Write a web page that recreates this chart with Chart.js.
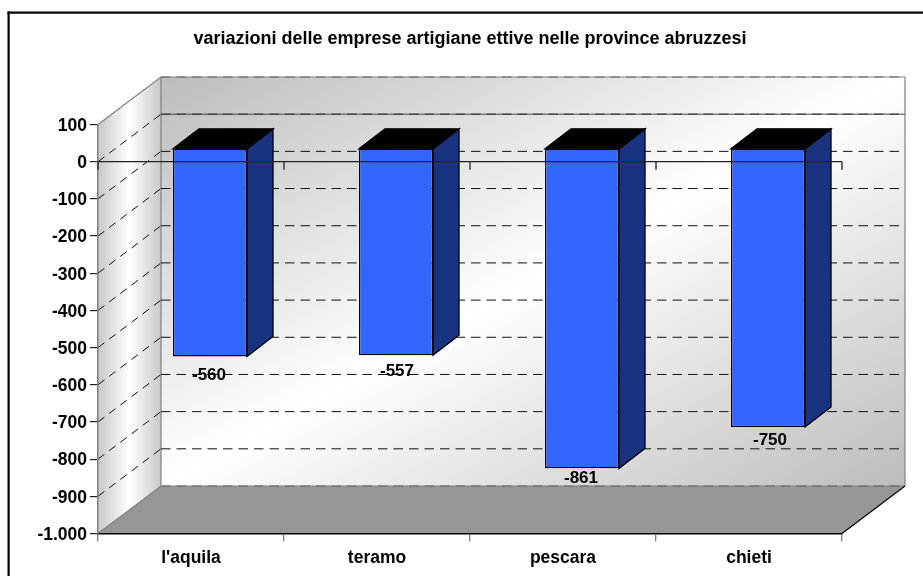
<!DOCTYPE html>
<html>
<head>
<meta charset="utf-8">
<style>html,body{margin:0;padding:0;background:#fff;overflow:hidden}canvas{display:block}</style>
<script src="https://cdn.jsdelivr.net/npm/chart.js@4"></script>
</head>
<body>
<div style="width:923px;height:576px"><canvas id="c"></canvas></div>
<script>
const categories = ["l'aquila", "teramo", "pescara", "chieti"];
const variazioni = [-560, -557, -861, -750];
const titleText = "variazioni delle emprese artigiane ettive nelle province abruzzesi";
const axisMin = -1000;
const axisMax = 100;
const axisStep = 100;

const fontFamily = "'Liberation Sans', Arial, sans-serif";
const WALL = {dx: 63, dy: 47.5};
const BAR = {shiftX: 19, shiftY: 13.5, dx: 26, dy: 20};
const LABEL_NUDGE_Y = [5, 3, -4, 0];
const LABEL_NUDGE_X = [0, 2, 0, 3];

function fmt(v) {
  const s = String(Math.abs(v)).replace(/\B(?=(\d{3})+$)/g, '.');
  return (v < 0 ? '-' : '') + s;
}
function line(ctx, x1, y1, x2, y2) {
  ctx.beginPath(); ctx.moveTo(x1, y1); ctx.lineTo(x2, y2); ctx.stroke();
}

const scene = {
  id: 'scene',
  beforeDraw(chart) {
    const ctx = chart.ctx, a = chart.chartArea, y = chart.scales.y;
    const {dx, dy} = WALL;
    const L = a.left, R = a.right, T = a.top, B = a.bottom;
    const bL = L + dx, bR = R + dx, bT = T - dy, bB = B - dy;
    ctx.save();
    ctx.fillStyle = '#fff';
    ctx.fillRect(0, 0, chart.width, chart.height);

    // page frame (cropped at right and bottom)
    ctx.fillStyle = '#000';
    ctx.fillRect(7.5, 11.5, chart.width, 2.2);
    ctx.fillRect(7.5, 11.5, 2.2, chart.height);

    // back wall
    const w = bR - bL, h = bB - bT, cx = (bL + bR) / 2, cy = (bT + bB) / 2;
    const len = Math.hypot(w, h), nx = h / len, ny = w / len;
    const p = (w / 2) * nx + (h / 2) * ny;
    const g = ctx.createLinearGradient(cx - nx * p, cy - ny * p, cx + nx * p, cy + ny * p);
    g.addColorStop(0, '#bcbcbc'); g.addColorStop(0.5, '#ffffff'); g.addColorStop(1, '#bcbcbc');
    ctx.fillStyle = g;
    ctx.fillRect(bL, bT, w, h);

    // side wall
    const s = ctx.createLinearGradient(L, 0, bL, 0);
    s.addColorStop(0, '#c8c8c8'); s.addColorStop(0.5, '#ffffff'); s.addColorStop(1, '#c8c8c8');
    ctx.fillStyle = s;
    ctx.beginPath();
    ctx.moveTo(L, T); ctx.lineTo(bL, bT); ctx.lineTo(bL, bB); ctx.lineTo(L, B); ctx.closePath();
    ctx.fill();

    // floor
    ctx.fillStyle = '#969696';
    ctx.beginPath();
    ctx.moveTo(L, B); ctx.lineTo(bL, bB); ctx.lineTo(bR, bB); ctx.lineTo(R, B); ctx.closePath();
    ctx.fill();

    // wall edges
    ctx.strokeStyle = '#808080';
    ctx.lineWidth = 1.2;
    ctx.beginPath();
    ctx.moveTo(L, T); ctx.lineTo(bL, bT); ctx.lineTo(bR, bT); ctx.lineTo(bR, bB);
    ctx.moveTo(bL, bT); ctx.lineTo(bL, bB);
    ctx.moveTo(L, B); ctx.lineTo(bL, bB); ctx.lineTo(bR, bB);
    ctx.stroke();
    ctx.strokeStyle = '#000';
    line(ctx, bR, bB, R, B);

    // gridlines
    y.ticks.forEach(t => {
      const py = y.getPixelForValue(t.value);
      const edge = t.value === axisMax || t.value === axisMin;
      ctx.setLineDash([9.5, 6]);
      ctx.lineWidth = 1;
      ctx.strokeStyle = edge ? '#666' : '#111';
      line(ctx, bL, py - dy, bR, py - dy);
      if (!edge) {
        ctx.setLineDash([8, 6]);
        ctx.strokeStyle = '#111';
        line(ctx, L, py, bL, py - dy);
      }
      ctx.setLineDash([]);
      if (t.value === 0) {
        ctx.strokeStyle = '#444';
        ctx.lineWidth = 1;
        line(ctx, bL, py - dy, bR, py - dy);
      }
    });
    ctx.restore();
  },
  beforeDatasetDraw(chart, args) {
    const ctx = chart.ctx;
    ctx.save();
    ctx.translate(BAR.shiftX, -BAR.shiftY);
    args.meta.data.forEach(el => {
      const l = el.x - el.width / 2, r = el.x + el.width / 2, t = el.base, b = el.y;
      ctx.lineWidth = 1.3;
      ctx.strokeStyle = '#000';
      ctx.lineJoin = 'miter';
      ctx.fillStyle = '#1a3380';
      ctx.beginPath();
      ctx.moveTo(r, t); ctx.lineTo(r + BAR.dx, t - BAR.dy); ctx.lineTo(r + BAR.dx, b - BAR.dy); ctx.lineTo(r, b); ctx.closePath();
      ctx.fill(); ctx.stroke();
      ctx.fillStyle = '#000';
      ctx.beginPath();
      ctx.moveTo(l, t); ctx.lineTo(l + BAR.dx, t - BAR.dy); ctx.lineTo(r + BAR.dx, t - BAR.dy); ctx.lineTo(r, t); ctx.closePath();
      ctx.fill(); ctx.stroke();
    });
  },
  afterDatasetDraw(chart, args) {
    chart.ctx.restore();
  },
  afterDatasetsDraw(chart) {
    const ctx = chart.ctx, a = chart.chartArea, y = chart.scales.y;
    const y0 = y.getPixelForValue(0);
    ctx.save();
    // zero axis line with its ticks
    ctx.strokeStyle = '#222';
    ctx.lineWidth = 1.3;
    line(ctx, a.left, y0, a.right, y0);
    const n = categories.length;
    for (let i = 0; i <= n; i++) {
      const x = a.left + (a.right - a.left) * i / n;
      line(ctx, x, y0, x, y0 + 8);
    }
    // value labels
    const meta = chart.getDatasetMeta(0);
    ctx.fillStyle = '#000';
    ctx.font = 'bold 17px ' + fontFamily;
    ctx.textAlign = 'center';
    ctx.textBaseline = 'middle';
    meta.data.forEach((el, i) => {
      ctx.fillText(fmt(variazioni[i]), el.x + BAR.shiftX - 1 + LABEL_NUDGE_X[i], y.getPixelForValue(variazioni[i]) + LABEL_NUDGE_Y[i]);
    });
    ctx.restore();
  }
};

new Chart(document.getElementById('c'), {
  type: 'bar',
  data: {
    labels: categories,
    datasets: [{
      data: variazioni,
      backgroundColor: '#3366ff',
      borderColor: '#000',
      borderWidth: 1.3,
      borderSkipped: false,
      barPercentage: 0.398,
      categoryPercentage: 1,
      clip: false
    }]
  },
  options: {
    responsive: true,
    maintainAspectRatio: false,
    animation: false,
    layout: {padding: {left: 0, right: 81, top: 0, bottom: 0}},
    plugins: {
      legend: {display: false},
      tooltip: {enabled: false},
      title: {
        display: true,
        fullSize: false,
        text: titleText,
        color: '#000',
        font: {family: fontFamily, size: 18, weight: 'bold', lineHeight: 1.2},
        padding: {top: 28.2, bottom: 74.7}
      }
    },
    scales: {
      x: {
        grid: {drawOnChartArea: false, color: '#808080', tickLength: 8, lineWidth: 1.3},
        border: {color: '#000', width: 1.5},
        ticks: {color: '#000', padding: 6, font: {family: fontFamily, size: 17.5, weight: 'bold'}, maxRotation: 0},
        afterFit(s) { s.height = 42.5; }
      },
      y: {
        min: axisMin,
        max: axisMax,
        grid: {drawOnChartArea: false, color: '#222', tickLength: 8, lineWidth: 1.2},
        border: {color: '#808080', width: 1.5},
        ticks: {stepSize: axisStep, color: '#000', padding: 3, labelOffset: 1.5, font: {family: fontFamily, size: 17.5, weight: 'bold'}, callback: v => fmt(v)},
        afterFit(s) { s.width = 98; }
      }
    }
  },
  plugins: [scene]
});
</script>
</body>
</html>
